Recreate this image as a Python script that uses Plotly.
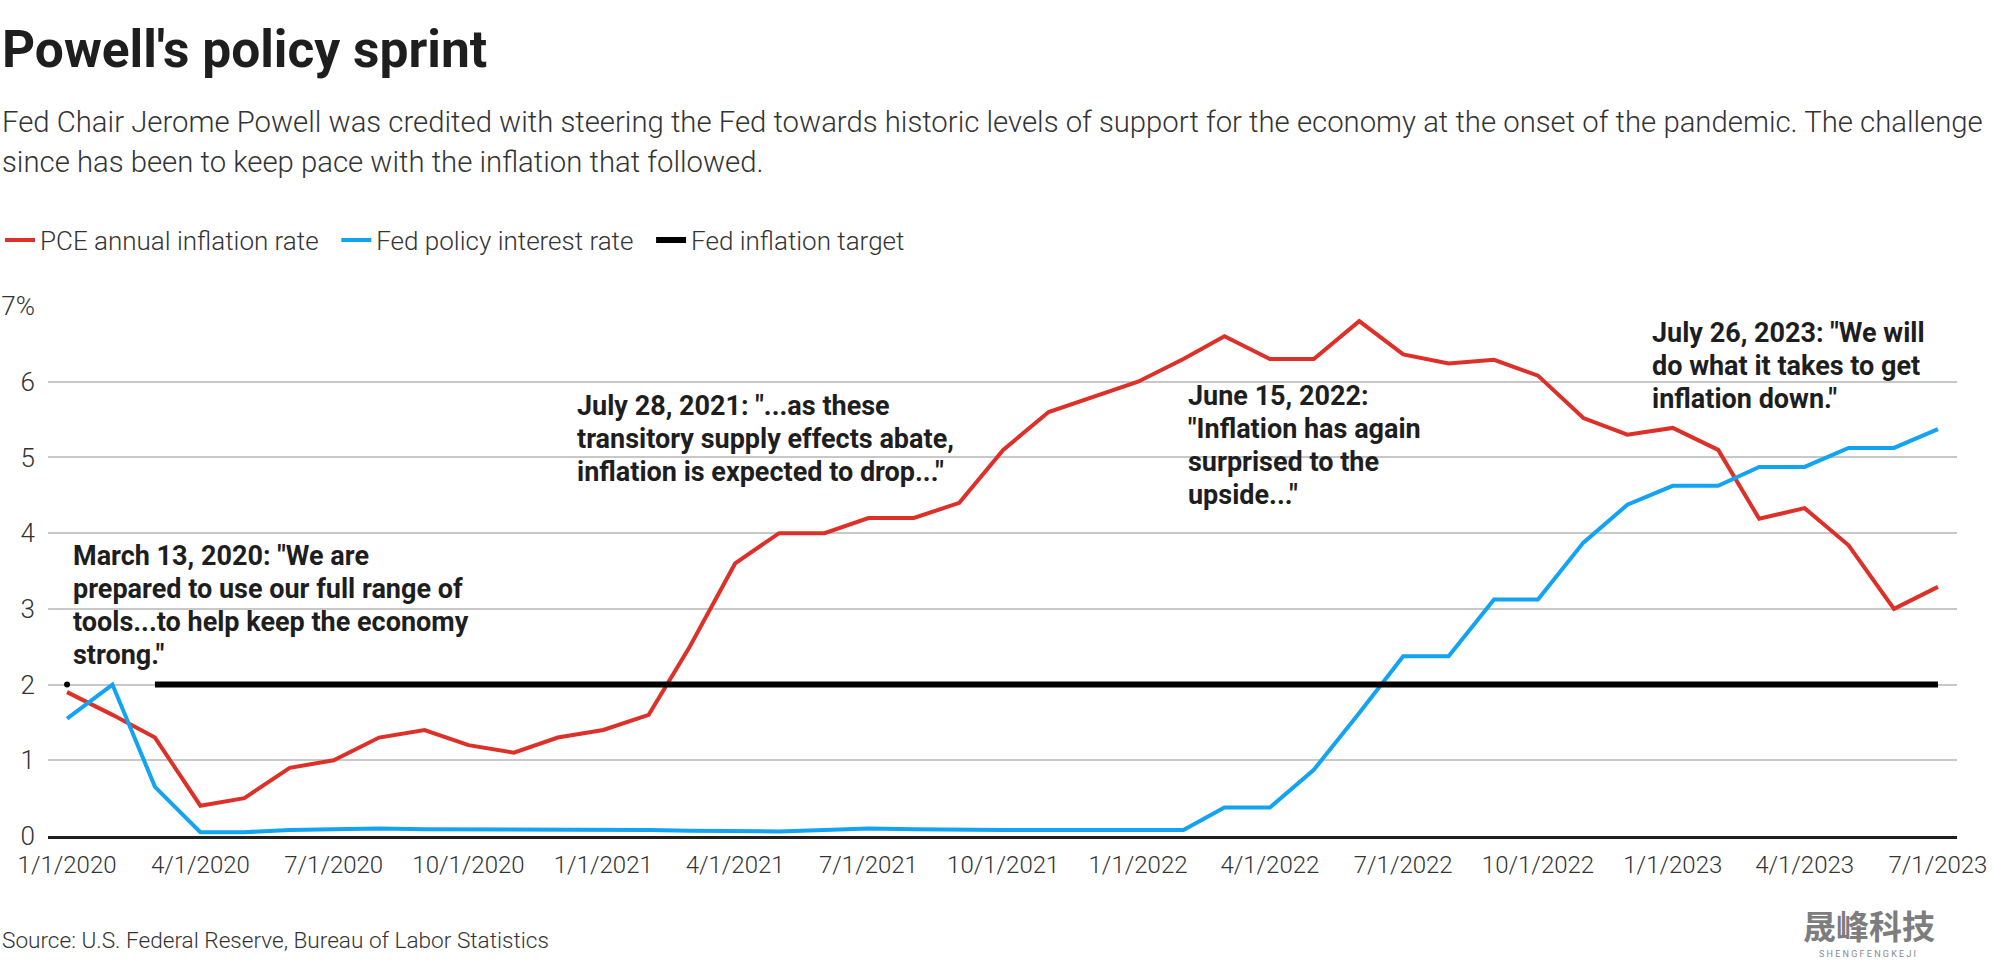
import plotly.graph_objects as go

# ---------------- data ----------------
months = [
    "2020-01-01", "2020-02-01", "2020-03-01", "2020-04-01", "2020-05-01", "2020-06-01",
    "2020-07-01", "2020-08-01", "2020-09-01", "2020-10-01", "2020-11-01", "2020-12-01",
    "2021-01-01", "2021-02-01", "2021-03-01", "2021-04-01", "2021-05-01", "2021-06-01",
    "2021-07-01", "2021-08-01", "2021-09-01", "2021-10-01", "2021-11-01", "2021-12-01",
    "2022-01-01", "2022-02-01", "2022-03-01", "2022-04-01", "2022-05-01", "2022-06-01",
    "2022-07-01", "2022-08-01", "2022-09-01", "2022-10-01", "2022-11-01", "2022-12-01",
    "2023-01-01", "2023-02-01", "2023-03-01", "2023-04-01", "2023-05-01", "2023-06-01",
    "2023-07-01",
]

pce_inflation = [
    1.9, 1.6, 1.3, 0.4, 0.5, 0.9, 1.0, 1.3, 1.4, 1.2, 1.1, 1.3,
    1.4, 1.6, 2.5, 3.6, 4.0, 4.0, 4.2, 4.2, 4.4, 5.1, 5.6, 5.8,
    6.0, 6.3, 6.6, 6.3, 6.3, 6.8, 6.36, 6.24, 6.29, 6.08, 5.52, 5.3,
    5.39, 5.1, 4.19, 4.33, 3.84, 3.0, 3.29,
]

fed_rate = [
    1.55, 2.0, 0.65, 0.05, 0.05, 0.08, 0.09, 0.1, 0.09, 0.09, 0.09, 0.09,
    0.09, 0.08, 0.07, 0.07, 0.06, 0.08, 0.1, 0.09, 0.08, 0.08, 0.08, 0.08,
    0.08, 0.08, 0.375, 0.375, 0.875, 1.625, 2.375, 2.375, 3.125, 3.125, 3.875, 4.375,
    4.625, 4.625, 4.875, 4.875, 5.125, 5.125, 5.375,
]

inflation_target = [
    2.0, None, 2.0, 2.0, 2.0, 2.0, 2.0, 2.0, 2.0, 2.0, 2.0, 2.0,
    2.0, 2.0, 2.0, 2.0, 2.0, 2.0, 2.0, 2.0, 2.0, 2.0, 2.0, 2.0,
    2.0, 2.0, 2.0, 2.0, 2.0, 2.0, 2.0, 2.0, 2.0, 2.0, 2.0, 2.0,
    2.0, 2.0, 2.0, 2.0, 2.0, 2.0, 2.0,
]

series_names = ["PCE annual inflation rate", "Fed policy interest rate", "Fed inflation target"]

x_tick_dates = [
    "2020-01-01", "2020-04-01", "2020-07-01", "2020-10-01",
    "2021-01-01", "2021-04-01", "2021-07-01", "2021-10-01",
    "2022-01-01", "2022-04-01", "2022-07-01", "2022-10-01",
    "2023-01-01", "2023-04-01", "2023-07-01",
]
x_tick_labels = [
    "1/1/2020", "4/1/2020", "7/1/2020", "10/1/2020",
    "1/1/2021", "4/1/2021", "7/1/2021", "10/1/2021",
    "1/1/2022", "4/1/2022", "7/1/2022", "10/1/2022",
    "1/1/2023", "4/1/2023", "7/1/2023",
]
y_tick_values = [0, 1, 2, 3, 4, 5, 6, 7]
y_tick_labels = ["0", "1", "2", "3", "4", "5", "6", "7%"]

title_text = "Powell's policy sprint"
subtitle_lines = [
    "Fed Chair Jerome Powell was credited with steering the Fed towards historic levels of support for the economy at the onset of the pandemic. The challenge",
    "since has been to keep pace with the inflation that followed.",
]
source_text = "Source: U.S. Federal Reserve, Bureau of Labor Statistics"

quotes = [
    ['March 13, 2020: "We are', 'prepared to use our full range of',
     'tools...to help keep the economy', 'strong."'],
    ['July 28, 2021: "...as these', 'transitory supply effects abate,',
     'inflation is expected to drop..."'],
    ['June 15, 2022:', '"Inflation has again', 'surprised to the', 'upside..."'],
    ['July 26, 2023: "We will', 'do what it takes to get', 'inflation down."'],
]

# ---------------- layout helpers ----------------
W, H = 1992, 960
ML, MR, MT, MB = 48, 35, 306, 124
PW = W - ML - MR
PH = H - MT - MB


def px_x(xpx):
    return (xpx - ML) / PW


def px_y(ypx):
    return (H - MB - ypx) / PH


RED = "#dd3028"
BLUE = "#12a3f2"
BLACK = "#000000"
TXT = "#333333"
DARK = "#1e1e1e"
FONT = "Roboto"
NB = "\u00a0\u00a0"  # small spacing after legend labels

fig = go.Figure()
fig.add_trace(go.Scatter(x=months, y=pce_inflation, name=series_names[0] + NB, mode="lines",
                         line=dict(color=RED, width=4)))
fig.add_trace(go.Scatter(x=months, y=fed_rate, name=series_names[1] + NB, mode="lines",
                         line=dict(color=BLUE, width=4)))
fig.add_trace(go.Scatter(x=months, y=inflation_target, name=series_names[2], mode="lines",
                         line=dict(color=BLACK, width=6), connectgaps=False))
fig.add_trace(go.Scatter(x=months[:1], y=inflation_target[:1], mode="markers", showlegend=False,
                         marker=dict(color=BLACK, size=6), hoverinfo="skip"))

annotations = []
annotations.append(dict(text=title_text, x=px_x(0), y=px_y(49), xref="paper", yref="paper",
                        xanchor="left", yanchor="middle", showarrow=False,
                        font=dict(family=FONT, size=51.5, color=DARK, weight=700)))
for line, cy in zip(subtitle_lines, [121.5, 161.5]):
    annotations.append(dict(text=line, x=px_x(0), y=px_y(cy), xref="paper", yref="paper",
                            xanchor="left", yanchor="middle", showarrow=False,
                            font=dict(family=FONT, size=29.3, color=TXT, weight=300)))
annotations.append(dict(text=source_text, x=px_x(0), y=px_y(940), xref="paper", yref="paper",
                        xanchor="left", yanchor="middle", showarrow=False,
                        font=dict(family=FONT, size=22.6, color=TXT, weight=300)))

quote_pos = [(71, 555.5), (575, 405.5), (1185.7, 395.5), (1649.5, 332.8)]
LINE_STEP = 33.2
for lines, (qx, qy) in zip(quotes, quote_pos):
    for k, line in enumerate(lines):
        annotations.append(dict(text=line, x=px_x(qx), y=px_y(qy + k * LINE_STEP),
                                xref="paper", yref="paper",
                                xanchor="left", yanchor="middle", align="left", showarrow=False,
                                font=dict(family=FONT, size=27, color=DARK, weight=700)))

# watermark
annotations.append(dict(text="晟峰科技", x=px_x(1869), y=px_y(925), xref="paper", yref="paper",
                        xanchor="center", yanchor="middle", showarrow=False,
                        font=dict(family="Noto Sans CJK SC", size=33, color="#7d7d7d", weight=700)))
annotations.append(dict(text="S H E N G F E N G K E J I", x=px_x(1867), y=px_y(954), xref="paper", yref="paper",
                        xanchor="center", yanchor="middle", showarrow=False,
                        font=dict(family=FONT, size=9, color="#8a8a8a")))

fig.update_layout(
    template="none",
    width=W, height=H,
    margin=dict(l=ML, r=MR, t=MT, b=MB, pad=0, autoexpand=False),
    paper_bgcolor="white", plot_bgcolor="white",
    font=dict(family=FONT, color=TXT),
    showlegend=True,
    legend=dict(orientation="h", xref="container", yref="container",
                x=-4 / W, y=1 - 240 / H, xanchor="left", yanchor="middle",
                font=dict(family=FONT, size=26, color=TXT, weight=300),
                bgcolor="rgba(0,0,0,0)", borderwidth=0, itemwidth=30, traceorder="normal"),
    annotations=annotations,
    hovermode=False,
)

fig.update_xaxes(
    type="date", range=["2019-12-19", "2023-07-14"],
    tickvals=x_tick_dates, ticktext=x_tick_labels,
    showgrid=False, zeroline=False, automargin=False,
    showline=True, linecolor="#1e1e1e", linewidth=3,
    ticks="", ticklabelstandoff=5, ticklabeloverflow="allow",
    tickfont=dict(family=FONT, size=24, color=TXT, weight=300),
)
fig.update_yaxes(
    range=[0, 7], tickvals=y_tick_values, ticktext=y_tick_labels,
    showgrid=True, gridcolor="#c8c8c8", gridwidth=1.5, automargin=False,
    zeroline=False, showline=False, ticks="", ticklabelstandoff=12,
    tickfont=dict(family=FONT, size=26, color=TXT, weight=300),
)

fig.write_html("out.html", config={"displayModeBar": False},
               post_script="document.body.style.margin='0';document.body.style.overflow='hidden';")
